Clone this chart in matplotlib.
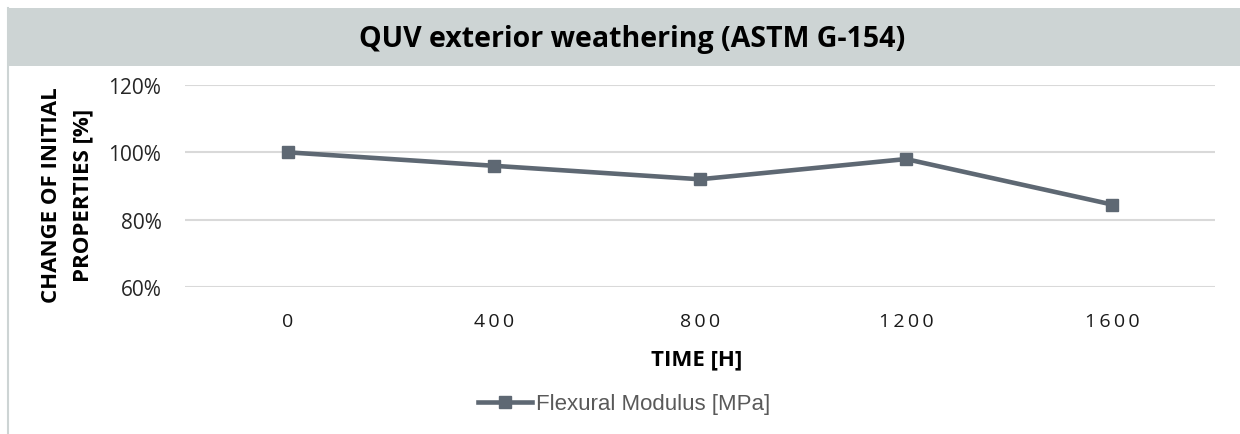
import matplotlib
matplotlib.use('Agg')
from matplotlib import pyplot as plt
from matplotlib.patches import Rectangle
from matplotlib.lines import Line2D
from matplotlib.ticker import FuncFormatter

# chart data
hours = ['0', '400', '800', '1200', '1600']
flexural_modulus = [100, 96, 92, 98, 84.5]
y_ticks = [60, 80, 100, 120]

W, H = 1240, 435
LINE_COLOR = '#5E6873'
GRID_COLOR = '#D9D9D9'
BAND_COLOR = '#CDD4D4'

fig = plt.figure(figsize=(W / 100, H / 100), dpi=100)
fig.patch.set_facecolor('white')


def fx(px):
    return px / W


def fy(py):
    return 1 - py / H


# grey title band and left border
fig.add_artist(Rectangle((fx(7), fy(67)), 1 - fx(7), fy(9) - fy(67),
                         transform=fig.transFigure, facecolor=BAND_COLOR,
                         edgecolor='none', zorder=0))
fig.add_artist(Line2D([fx(8), fx(8)], [0, fy(9)], transform=fig.transFigure,
                      color=BAND_COLOR, linewidth=1.5))
fig.text(fx(632), fy(47), 'QUV exterior weathering (ASTM G-154)',
         ha='center', va='baseline', fontsize=20.5, fontweight='bold',
         family='Open Sans', color='black')

ax = fig.add_axes([fx(185), fy(288), fx(1215) - fx(185), fy(86) - fy(288)])
x = list(range(len(hours)))
ax.plot(x, flexural_modulus, color=LINE_COLOR, linewidth=3.3, marker='s',
        markersize=9, label='Flexural Modulus [MPa]', zorder=3)

ax.set_xlim(-0.5, len(hours) - 0.5)
ax.set_ylim(60, 120)
ax.set_yticks(y_ticks)
ax.yaxis.set_major_formatter(FuncFormatter(lambda v, p: f'{v:.0f}%'))
ax.set_xticks(x)
ax.set_xticklabels(['\u2009'.join(h) for h in hours],
                   family=['Open Sans', 'DejaVu Sans'], fontsize=14,
                   color='#1a1a1a')
for t in ax.get_yticklabels():
    t.set_family('Open Sans')
    t.set_fontsize(15)
    t.set_color('#262626')

ax.grid(axis='y', color=GRID_COLOR, linewidth=1.5)
ax.set_axisbelow(True)
ax.tick_params(axis='x', length=0, pad=18)
ax.tick_params(axis='y', length=0, pad=17)
for s in ax.spines.values():
    s.set_visible(False)

fig.text(fx(697), fy(365), 'TIME [H]', ha='center', va='baseline',
         fontsize=16, fontweight='bold', family='Open Sans')
ax.set_ylabel('CHANGE OF INITIAL\nPROPERTIES [%]', fontsize=16,
              fontweight='bold', family='Open Sans', linespacing=1.6)
ax.yaxis.set_label_coords((93 - 185) / 1030, (288 - 195) / 202)

leg = fig.legend(loc='center', bbox_to_anchor=(fx(624), fy(405)),
                 frameon=False, handlelength=2.45, handletextpad=0.15,
                 prop={'family': 'Liberation Sans', 'size': 16})
for t in leg.get_texts():
    t.set_color('#595959')

fig.savefig('out.png', dpi=100)
